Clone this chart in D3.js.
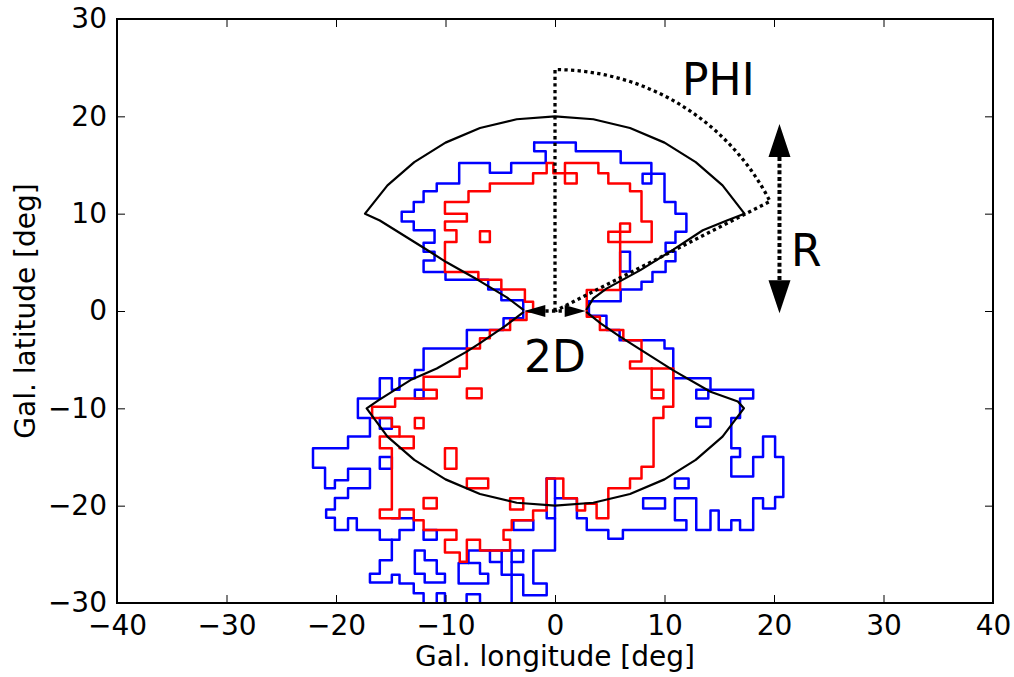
<!DOCTYPE html>
<html>
<head>
<meta charset="utf-8">
<script src="https://cdn.jsdelivr.net/npm/d3@7"></script>
<style>
  html, body { margin: 0; padding: 0; background: #fff; }
  svg { display: block; font-family: "DejaVu Sans", sans-serif; }
</style>
</head>
<body>
<svg id="chart" width="1014" height="677"></svg>
<script>
// ---- axes ----
const lonDomain = [-40, 40];
const latDomain = [-30, 30];
const lonTicks = [-40, -30, -20, -10, 0, 10, 20, 30, 40];
const latTicks = [-30, -20, -10, 0, 10, 20, 30];

// ---- outer (blue) emission contour, polylines in [lon, lat] degrees ----
const blueContour = [
  // west side, from the cap of the northern lobe down to the map edge
  [[-1.9,17.3],[-1.9,16.4],[-0.85,16.4],[-0.85,15.2],[-4,15.2],[-4,14.2],[-5.95,14.2],[-5.95,15.2],[-8.75,15.2],[-8.75,13.1],
   [-10.8,13.1],[-10.8,12.3],[-12,12.3],[-12,11.2],[-12.9,11.2],[-12.9,10.2],[-14,10.2],[-14,9.2],[-12.9,9.2],[-12.9,8.3],
   [-11,8.3],[-11,7],[-12,7],[-12,6.1],[-11,6.1],[-11,5.2],[-12,5.2],[-12,4],[-10,4],[-10,3.2],[-6.1,3.2],[-6.1,2.2],
   [-4.9,2.2],[-4.9,1.1],[-2.9,1.1],[-2.9,-0.75],[-4.7,-0.75],[-4.7,-1.95],[-8.05,-1.95],[-8.05,-3.85],[-12,-3.85],
   [-12,-6.05],[-12.8,-6.05],[-12.8,-6.9],[-14.2,-6.9],[-14.2,-8.1],[-14.9,-8.1],[-14.9,-6.9],[-16,-6.9],[-16,-9],
   [-18,-9],[-18,-11],[-16.9,-11],[-16.9,-12.9],[-18.9,-12.9],[-18.9,-14.1],[-22.1,-14.1],[-22.1,-16.1],[-21,-16.1],
   [-21,-18.2],[-20.1,-18.2],[-20.1,-17.4],[-18.9,-17.4],[-18.9,-16.2],[-16.9,-16.2],[-16.9,-18.2],[-18.9,-18.2],
   [-18.9,-19.2],[-20.1,-19.2],[-20.1,-20.4],[-20.9,-20.4],[-20.9,-21.25],[-20.1,-21.25],[-20.1,-22.5],[-18.9,-22.5],
   [-18.9,-21.3],[-18.1,-21.3],[-18.1,-22.5],[-16,-22.5],[-16,-23.5],[-14.9,-23.5],[-14.9,-25.6],[-16,-25.6],[-16,-27],
   [-16.9,-27],[-16.9,-27.9],[-14.9,-27.9],[-14.9,-27.1],[-14.2,-27.1],[-14.2,-28],[-12.9,-28],[-12.9,-29],[-12,-29],[-12,-30.5]],
  // east side, from the cap of the northern lobe round to the southern cap
  [[-1.9,17.3],[1.9,17.3],[1.9,16.4],[6,16.4],[6,15.2],[8.8,15.2],[8.8,13.1],[8,13.1],[8,14.1],[10,14.1],[10,11.2],
   [11,11.2],[11,10],[12,10],[12,8.15],[11,8.15],[11,7],[10.1,7],[10.1,6.1],[11,6.1],[11,5.1],[10.1,5.1],[10.1,4],
   [8.9,4],[8.9,3],[7.9,3],[7.9,2.2],[6,2.2],[6,1],[3.1,1],[3.1,-0.5],[4.7,-0.5],[4.7,-1.95],[5.9,-1.95],[5.9,-3],
   [10,-3],[10,-3.85],[10.8,-3.85],[10.8,-6.9],[14.2,-6.9],[14.2,-8.1],[18.1,-8.1],[18.1,-9],[16.9,-9],[16.9,-11],
   [16.1,-11],[16.1,-14.1],[16.9,-14.1],[16.9,-15],[16.1,-15],[16.1,-17],[18.1,-17],[18.1,-15],[19,-15],[19,-12.9],
   [20.1,-12.9],[20.1,-15],[20.85,-15],[20.85,-19.1],[20.1,-19.1],[20.1,-20.3],[19,-20.3],[19,-19.25],[18.1,-19.25],
   [18.1,-22.5],[16.9,-22.5],[16.9,-21.5],[16.1,-21.5],[16.1,-22.5],[14.95,-22.5],[14.95,-20.5],[14.2,-20.5],[14.2,-22.5],
   [12.9,-22.5],[12.9,-19.25],[10.95,-19.25],[10.95,-21.5],[12,-21.5],[12,-22.5],[6.2,-22.5],[6.2,-23.4],[4.87,-23.4],
   [4.87,-22.5],[2.9,-22.5],[2.9,-21.3],[2,-21.3],[2,-19.25],[0,-19.25]],
  // southern tongue reaching the map edge
  [[-0.76,-17.2],[0,-17.2],[0,-24.6],[-1.98,-24.6],[-1.98,-28],[-0.76,-28],[-0.76,-29.2],[-2.9,-29.2],[-2.9,-27.1],
   [-3.96,-27.1],[-3.96,-30.5]],
  [[-0.76,-17.2],[-0.76,-21.3],[0,-21.3]],
  [[-2.9,-24.6],[-7.9,-24.6],[-7.9,-25.9]],
  [[-5.94,-24.6],[-5.94,-25.8],[-4.87,-25.8],[-4.87,-27.1],[-3.96,-27.1]],
  [[-4.87,-24.6],[-4.87,-25.8]],
  [[-3.96,-24.6],[-3.96,-27.1]],
  [[-3.96,-25.8],[-2.9,-25.8],[-2.9,-24.6]],
  [[-8.8,-25.9],[-6.85,-25.9],[-6.85,-27],[-6.1,-27],[-6.1,-28],[-8.8,-28],[-8.8,-25.9]],
  [[-10.8,-30.5],[-10.8,-29],[-10.05,-29],[-10.05,-30.5]],
  [[-8.07,-30.5],[-8.07,-29.1],[-6.85,-29.1],[-6.85,-30.5]],
  [[-12.8,-24.6],[-11.9,-24.6],[-11.9,-25.6],[-10.8,-25.6],[-10.8,-27],[-10.05,-27],[-10.05,-27.9],[-11.9,-27.9],
   [-11.9,-27],[-12.8,-27],[-12.8,-24.6]],
  // isolated islands / holes
  [[5.95,6.1],[6.85,6.1],[6.85,4.05],[5.95,4.05],[5.95,6.1]],
  [[12.9,-8.1],[14,-8.1],[14,-9],[12.9,-9],[12.9,-8.1]],
  [[12.9,-11],[14.2,-11],[14.2,-11.9],[12.9,-11.9],[12.9,-11]],
  [[10.95,-17.2],[12.2,-17.2],[12.2,-18.2],[10.95,-18.2],[10.95,-17.2]],
  [[8.05,-19.25],[10.05,-19.25],[10.05,-20.3],[8.05,-20.3],[8.05,-19.25]],
  [[-12.8,-8.1],[-12,-8.1],[-12,-9],[-12.8,-9],[-12.8,-8.1]],
  [[-16,-11],[-14.9,-11],[-14.9,-12.1],[-16,-12.1],[-16,-11]],
  [[-16,-15],[-14.9,-15],[-14.9,-16.2],[-16,-16.2],[-16,-15]],
  [[-14.9,-21.3],[-12.9,-21.3],[-12.9,-22.5],[-14.2,-22.5],[-14.2,-23.5],[-14.9,-23.5]],
  [[-12,-22.5],[-10.8,-22.5],[-10.8,-23.5],[-12,-23.5],[-12,-22.5]],
  [[-3.8,-21.5],[-1.98,-21.5],[-1.98,-22.5],[-3.8,-22.5],[-3.8,-21.5]]
];

// ---- inner (red) emission contour ----
const redContour = [
  [[-0.15,15.2],[-0.76,15.2],[-0.76,14.15],[-2,14.15],[-2,13.1],[-5.95,13.1],[-5.95,12.3],[-7.9,12.3],[-7.9,11.2],
   [-10.05,11.2],[-10.05,10],[-8.05,10],[-8.05,9.2],[-10.05,9.2],[-10.05,8.3],[-9,8.3],[-9,7.1],[-10.05,7.1],[-10.05,4],
   [-7,4],[-7,3.2],[-4.9,3.2],[-4.9,2.2],[-2.75,2.2],[-2.75,0.95],[-2,0.95],[-2,-0.07],[-2.6,-0.07],[-2.6,-0.92],
   [-4.1,-0.92],[-4.1,-1.95],[-5.95,-1.95],[-5.95,-2.8],[-6.85,-2.8],[-6.85,-3.85],[-8.05,-3.85],[-8.05,-5.9],[-8.7,-5.9],
   [-8.7,-6.75],[-12,-6.75],[-12,-8.1],[-10.8,-8.1],[-10.8,-9],[-14.6,-9],[-14.6,-9.85],[-16.7,-9.85],[-16.7,-11],
   [-14.9,-11],[-14.9,-11.9],[-14.2,-11.9],[-14.2,-12.9],[-16,-12.9],[-16,-14.1],[-14.9,-14.1],[-14.9,-20.4],[-16,-20.4],
   [-16,-21.3],[-14.2,-21.3],[-14.2,-20.4],[-12.9,-20.4],[-12.9,-21.5],[-12,-21.5],[-12,-22.5],[-9,-22.5],[-9,-23.5],
   [-10.05,-23.5],[-10.05,-24.8],[-8.7,-24.8],[-8.7,-25.75],[-8.05,-25.75],[-8.05,-23.5],[-6.85,-23.5],[-6.85,-24.6],
   [-4.1,-24.6],[-4.1,-23.5],[-4.7,-23.5],[-4.7,-22.5],[-3.95,-22.5],[-3.95,-21.5],[-2,-21.5],[-2,-20.5],[-0.76,-20.5],
   [-0.76,-17.2],[0.76,-17.2],[0.76,-19.25],[2,-19.25],[2,-20.5],[2.75,-20.5],[2.75,-19.8],[3.8,-19.8],[3.8,-21.3],
   [4.87,-21.3],[4.87,-18.2],[6.85,-18.2],[6.85,-17.2],[7.9,-17.2],[7.9,-16],[9,-16],[9,-11],[9.9,-11],[9.9,-9.85],
   [10.8,-9.85],[10.8,-5.9],[6.85,-5.9],[6.85,-5.2],[7.9,-5.2],[7.9,-3],[6.24,-3],[6.24,-1.95],[4.1,-1.95],[4.1,-0.58],
   [2.9,-0.58],[2.9,2.16],[5.95,2.16],[5.95,9],[6.85,9],[6.85,8.15],[4.87,8.15],[4.87,7.1],[8.83,7.1],[8.83,9.2],
   [7.9,9.2],[7.9,12.3],[6.85,12.3],[6.85,13.1],[4.87,13.1],[4.87,14.15],[3.96,14.15],[3.96,15.2],[0.91,15.2],
   [0.91,13.1],[1.98,13.1],[1.98,14.15],[-0.15,14.15],[-0.15,15.2]],
  [[8.83,-5.9],[8.83,-8.97],[9.9,-8.97],[9.9,-8.1],[8.83,-8.1]],
  [[-6.85,8.2],[-5.95,8.2],[-5.95,7.1],[-6.85,7.1],[-6.85,8.2]],
  [[-12.8,-11],[-12,-11],[-12,-12.05],[-12.8,-12.05],[-12.8,-11]],
  [[-14.2,-12.9],[-12.9,-12.9],[-12.9,-14.1],[-14.2,-14.1]],
  [[-10.05,-14.1],[-9,-14.1],[-9,-16.2],[-10.05,-16.2],[-10.05,-14.1]],
  [[-8.05,-7.95],[-6.7,-7.95],[-6.7,-8.97],[-8.05,-8.97],[-8.05,-7.95]],
  [[-12,-19.2],[-10.8,-19.2],[-10.8,-20.3],[-12,-20.3],[-12,-19.2]],
  [[-8.05,-17.2],[-6.1,-17.2],[-6.1,-18.2],[-8.05,-18.2],[-8.05,-17.2]],
  [[-4.1,-19.25],[-2.9,-19.25],[-2.9,-20.4],[-4.1,-20.4],[-4.1,-19.25]]
];

// ---- bipolar bubble model outlines [lon, lat] ----
const northLobe = [
  [-2.85,0.1],[-4.4,1.4],[-6.9,3.1],[-9.9,5.0],[-12,6.5],[-16,9.3],[-17.35,10],
  [-15.3,12.9],[-12.85,15.3],[-10,17.3],[-6.85,18.8],[-3.5,19.7],[0,20],[3.5,19.7],[6.85,18.8],[10,17.3],
  [12.85,15.3],[15.3,12.9],[17.3,10],
  [15.7,9.3],[13.5,8.3],[10.8,6.3],[7.8,4.2],[4.7,2.3],[3.5,1.3],[2.85,0.1]
];
const southLobe = [
  [-2.85,-0.1],[-4.5,-1.5],[-6.85,-3.3],[-8.1,-4.2],[-10.8,-5.9],[-13.2,-7.1],[-16.1,-9.15],[-17.2,-10],
  [-15.3,-12.9],[-12.85,-15.3],[-10,-17.3],[-6.85,-18.8],[-3.5,-19.7],[0,-20],[3.5,-19.7],[6.85,-18.8],[10,-17.3],
  [12.85,-15.3],[15.3,-12.9],[17.25,-10],
  [16.7,-9.3],[14.2,-8.3],[10.8,-6.1],[5.9,-2.6],[4.2,-1.3],[2.85,-0.1]
];

// ---- annotation geometry (degrees) ----
const phiTopLat = 24.8;      // top of the vertical reference line
const phiSweepDeg = 63;      // opening of the PHI arc from the vertical
const rArrowLon = 20.5;
const rArrowLats = [-0.24, 19.2];
const dArrowLons = [-2.8, 2.8];
const phiLabelPos = [11.6, 22.2];
const rLabelPos = [21.55, 4.6];
const dLabelPos = [0, -6.27];

// ---- layout ----
const W = 1014, H = 677;
const plot = { left: 117, right: 993, top: 19, bottom: 603 };

const svg = d3.select("#chart");
const x = d3.scaleLinear().domain(lonDomain).range([plot.left, plot.right]);
const y = d3.scaleLinear().domain(latDomain).range([plot.bottom, plot.top]);

svg.append("rect").attr("width", W).attr("height", H).attr("fill", "#fff");

svg.append("defs").append("clipPath").attr("id", "plotClip")
  .append("rect")
  .attr("x", plot.left).attr("y", plot.top)
  .attr("width", plot.right - plot.left).attr("height", plot.bottom - plot.top);

const line = d3.line().x(d => x(d[0])).y(d => y(d[1]));
const g = svg.append("g").attr("clip-path", "url(#plotClip)");

// emission contours
g.append("g").selectAll("path").data(blueContour).join("path")
  .attr("d", line).attr("fill", "none").attr("stroke", "#0000ff")
  .attr("stroke-width", 2.5).attr("stroke-linejoin", "round").attr("stroke-linecap", "round");
g.append("g").selectAll("path").data(redContour).join("path")
  .attr("d", line).attr("fill", "none").attr("stroke", "#ff0000")
  .attr("stroke-width", 2.5).attr("stroke-linejoin", "round").attr("stroke-linecap", "round");

// bubble model outlines
g.append("g").selectAll("path").data([northLobe, southLobe]).join("path")
  .attr("d", line).attr("fill", "none").attr("stroke", "#000")
  .attr("stroke-width", 2.2).attr("stroke-linejoin", "round");

// ---- annotations ----
const ann = svg.append("g");
const ox = x(0), oy = y(0);
const rPhi = oy - y(phiTopLat);
const a0 = -Math.PI / 2, a1 = a0 + phiSweepDeg * Math.PI / 180;
const phiPath = d3.path();
phiPath.moveTo(ox, oy);
phiPath.lineTo(ox, oy - rPhi);
phiPath.arc(ox, oy, rPhi, a0, a1);
phiPath.lineTo(ox, oy);
ann.append("path").attr("d", phiPath.toString()).attr("fill", "none")
  .attr("stroke", "#000").attr("stroke-width", 3.3).attr("stroke-dasharray", "3.3,3.3");

function head(tx, ty, dx, dy, len, hw) {
  const bx = tx - dx * len, by = ty - dy * len;
  const px = -dy, py = dx;
  return [[tx, ty], [bx + px * hw, by + py * hw], [bx - px * hw, by - py * hw]];
}

// R arrow (vertical, double headed)
{
  const ax = x(rArrowLon);
  const yTop = y(rArrowLats[1]), yBot = y(rArrowLats[0]);
  const len = 33, hw = 11;
  ann.append("line").attr("x1", ax).attr("x2", ax)
    .attr("y1", yTop + len).attr("y2", yBot - len)
    .attr("stroke", "#000").attr("stroke-width", 4).attr("stroke-dasharray", "4,2.6");
  ann.selectAll("polygon.rhead").data([head(ax, yTop, 0, -1, len, hw), head(ax, yBot, 0, 1, len, hw)])
    .join("polygon").attr("class", "rhead")
    .attr("points", d => d.map(p => p.join(",")).join(" ")).attr("fill", "#000");
}

// 2D arrow (horizontal, double headed)
{
  const xl = x(dArrowLons[0]), xr = x(dArrowLons[1]);
  const len = 21, hw = 6;
  ann.append("line").attr("x1", xl + len).attr("x2", xr - len)
    .attr("y1", oy).attr("y2", oy)
    .attr("stroke", "#000").attr("stroke-width", 3.3).attr("stroke-dasharray", "3.3,3.3");
  ann.selectAll("polygon.dhead").data([head(xl, oy, -1, 0, len, hw), head(xr, oy, 1, 0, len, hw)])
    .join("polygon").attr("class", "dhead")
    .attr("points", d => d.map(p => p.join(",")).join(" ")).attr("fill", "#000");
}

ann.append("text").attr("x", x(phiLabelPos[0])).attr("y", y(phiLabelPos[1]))
  .attr("font-size", 44).attr("fill", "#000").text("PHI");
ann.append("text").attr("x", x(rLabelPos[0])).attr("y", y(rLabelPos[1]))
  .attr("font-size", 44).attr("fill", "#000").text("R");
ann.append("text").attr("x", x(dLabelPos[0])).attr("y", y(dLabelPos[1]))
  .attr("font-size", 44).attr("text-anchor", "middle").attr("fill", "#000").text("2D");

// ---- axes (inward ticks on all four sides) ----
const fmt = d3.format("d");
const styleAxis = sel => {
  sel.select(".domain").remove();
  sel.selectAll(".tick line").attr("stroke", "#000").attr("stroke-width", 1);
  sel.selectAll(".tick text").attr("fill", "#000").attr("font-size", 28)
    .attr("font-family", "DejaVu Sans, sans-serif");
};
svg.append("g").attr("transform", `translate(0,${plot.bottom})`)
  .call(d3.axisBottom(x).tickValues(lonTicks).tickFormat(fmt).tickSize(-8).tickPadding(12))
  .call(styleAxis);
svg.append("g").attr("transform", `translate(0,${plot.top})`)
  .call(d3.axisTop(x).tickValues(lonTicks).tickFormat("").tickSize(-8))
  .call(styleAxis);
svg.append("g").attr("transform", `translate(${plot.left},0)`)
  .call(d3.axisLeft(y).tickValues(latTicks).tickFormat(fmt).tickSize(-8).tickPadding(10))
  .call(styleAxis);
svg.append("g").attr("transform", `translate(${plot.right},0)`)
  .call(d3.axisRight(y).tickValues(latTicks).tickFormat("").tickSize(-8))
  .call(styleAxis);

svg.append("rect")
  .attr("x", plot.left).attr("y", plot.top)
  .attr("width", plot.right - plot.left).attr("height", plot.bottom - plot.top)
  .attr("fill", "none").attr("stroke", "#000").attr("stroke-width", 2);

svg.append("text").attr("x", (plot.left + plot.right) / 2).attr("y", 666)
  .attr("text-anchor", "middle").attr("font-size", 28).attr("fill", "#000")
  .text("Gal. longitude [deg]");
svg.append("text")
  .attr("transform", `translate(35,${(plot.top + plot.bottom) / 2}) rotate(-90)`)
  .attr("text-anchor", "middle").attr("font-size", 28).attr("fill", "#000")
  .text("Gal. latitude [deg]");
</script>
</body>
</html>
